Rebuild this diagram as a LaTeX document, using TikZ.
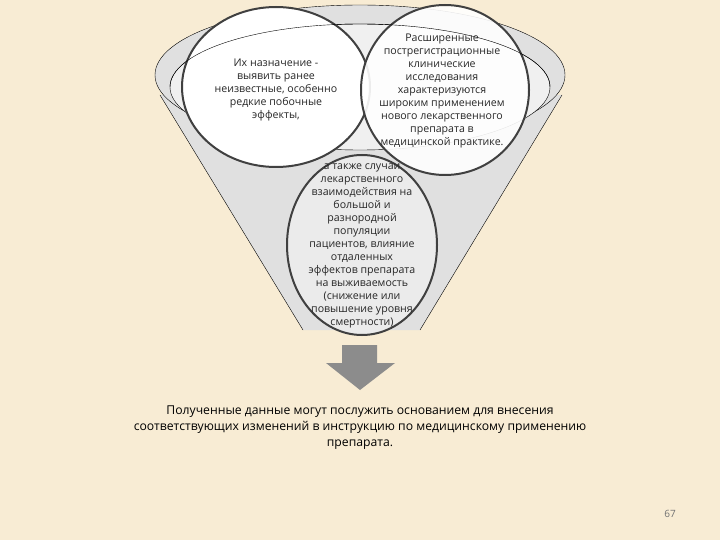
\documentclass[tikz,border=0pt]{standalone}
\usepackage{fontspec}
\setmainfont{Open Sans}
\begin{document}
\begin{tikzpicture}[x=1pt,y=-1pt,
  circ/.style={draw=black!75,line width=2pt},
  ctext/.style={align=center,font=\fontsize{10.6}{13}\selectfont,text=black!85}]
\fill[fill={rgb,255:red,248;green,236;blue,212}] (0,0) rectangle (720,540);
\useasboundingbox (0,0) rectangle (720,540);
% funnel
\fill[black!12] (160,95) -- (303,330) -- (420,330) -- (562,95) -- cycle;
\fill[black!12] (360,75) ellipse (205 and 70);
\draw[thin] (160,95) -- (303,330);
\draw[thin] (562,95) -- (420,330);
\draw[thin] (360,75) ellipse (205 and 70);
\draw[thin,fill=black!6] (360,87) ellipse (190 and 63);
% circles
\draw[circ,fill=white] (276,87) ellipse (94 and 80) node (a) {};
\draw[circ,fill=white,fill opacity=0.9] (445,90) ellipse (84 and 85) node (b) {};
\draw[thin] (170,87) arc (180:360:190 and 63);
\draw[circ,fill=black!8] (362,245) ellipse (75 and 90) node (c) {};
\node[ctext] (ta) at (276,90) {Их назначение -\\выявить ранее\\неизвестные, особенно\\редкие побочные\\эффекты,};
\node[ctext] (tb) at (442,91) {Расширенные\\пострегистрационные\\клинические\\исследования\\характеризуются\\широким применением\\нового лекарственного\\препарата в\\медицинской практике.};
\node[ctext] (tc) at (362,246) {а также случаи\\лекарственного\\взаимодействия на\\большой и\\разнородной\\популяции\\пациентов, влияние\\отдаленных\\эффектов препарата\\на выживаемость\\(снижение или\\повышение уровня\\смертности)};
% arrow
\fill[black!45] (342,345) -- (377,345) -- (377,363) -- (395,363) -- (360,390) -- (326,363) -- (342,363) -- cycle;
\node (arr) at (360,365) {};
\node[align=center,font=\fontsize{12.2}{16}\selectfont] (t) at (360,428) {Полученные данные могут послужить основанием для внесения\\соответствующих изменений в инструкцию по медицинскому применению\\препарата.};
\node[font=\fontsize{10}{10}\selectfont,text=black!55] (pg) at (670,514) {67};
\end{tikzpicture}
\end{document}
